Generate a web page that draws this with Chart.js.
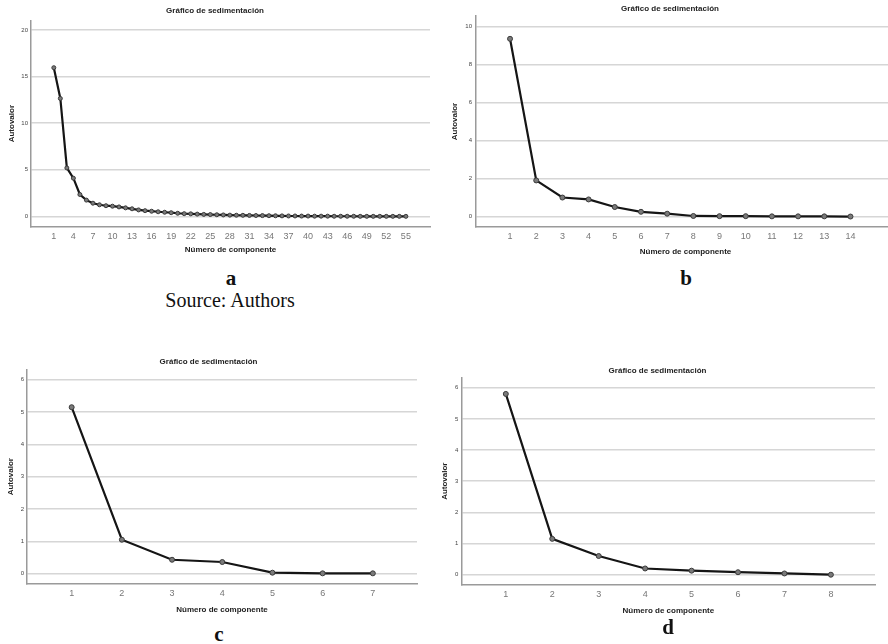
<!DOCTYPE html>
<html>
<head>
<meta charset="utf-8">
<script src="https://cdn.jsdelivr.net/npm/chart.js@4.4.1/dist/chart.umd.min.js"></script>
<style>
  html, body { margin: 0; padding: 0; background: #fff; overflow: hidden; }
  body { width: 888px; height: 644px; position: relative; }
  .panel { position: absolute; }
  .lbl { position: absolute; font-family: 'Liberation Serif', 'Times New Roman', serif; color: #111; transform: translate(-50%, -50%); white-space: nowrap; }
  .lbl.b { font-weight: bold; font-size: 21px; }
  .lbl.src { font-size: 20px; }
</style>
</head>
<body>
<div class="panel" style="left:0px;top:0px;width:440px;height:262px"><canvas id="chartA"></canvas></div>
<div class="panel" style="left:440px;top:0px;width:460px;height:262px"><canvas id="chartB"></canvas></div>
<div class="panel" style="left:0px;top:350px;width:440px;height:270px"><canvas id="chartC"></canvas></div>
<div class="panel" style="left:440px;top:350px;width:448px;height:270px"><canvas id="chartD"></canvas></div>

<div class="lbl b" style="left:231px;top:278px">a</div>
<div class="lbl b" style="left:686px;top:278px">b</div>
<div class="lbl src" style="left:230px;top:300px">Source: Authors</div>
<div class="lbl b" style="left:219px;top:634px">c</div>
<div class="lbl b" style="left:668px;top:627px">d</div>

<script>
// panel a: 55 components
const compA = [1,2,3,4,5,6,7,8,9,10,11,12,13,14,15,16,17,18,19,20,21,22,23,24,25,26,27,28,29,30,
               31,32,33,34,35,36,37,38,39,40,41,42,43,44,45,46,47,48,49,50,51,52,53,54,55];
const eigenA = [15.95, 12.65, 5.2, 4.1, 2.35, 1.75, 1.42, 1.25, 1.15, 1.1, 1.02, 0.92, 0.82, 0.7, 0.62,
                0.56, 0.5, 0.45, 0.4, 0.34, 0.3, 0.28, 0.25, 0.22, 0.2, 0.18, 0.16, 0.14, 0.13, 0.12,
                0.11, 0.1, 0.09, 0.08, 0.07, 0.06, 0.05, 0.05, 0.04, 0.04, 0.03, 0.03, 0.03, 0.02, 0.02,
                0.02, 0.02, 0.01, 0.01, 0.01, 0.01, 0.01, 0.01, 0.01, 0.01];
const xTicksA = [1,4,7,10,13,16,19,22,25,28,31,34,37,40,43,46,49,52,55];
const yTicksA = [0,5,10,15,20];

// panel b: 14 components
const compB = [1,2,3,4,5,6,7,8,9,10,11,12,13,14];
const eigenB = [9.35, 1.9, 1.0, 0.9, 0.5, 0.25, 0.15, 0.03, 0.02, 0.02, 0.01, 0.01, 0.01, 0.0];
const xTicksB = [1,2,3,4,5,6,7,8,9,10,11,12,13,14];
const yTicksB = [0,2,4,6,8,10];

// panel c: 7 components
const compC = [1,2,3,4,5,6,7];
const eigenC = [5.15, 1.05, 0.43, 0.36, 0.03, 0.01, 0.01];
const xTicksC = [1,2,3,4,5,6,7];
const yTicksC = [0,1,2,3,4,5,6];

// panel d: 8 components
const compD = [1,2,3,4,5,6,7,8];
const eigenD = [5.8, 1.15, 0.6, 0.2, 0.13, 0.08, 0.04, 0.0];
const xTicksD = [1,2,3,4,5,6,7,8];
const yTicksD = [0,1,2,3,4,5,6];

const FONT = "'Liberation Sans', Arial, sans-serif";

function renderScree(canvasId, comps, values, xTicks, yTicks, cfg) {
    const ctx = document.getElementById(canvasId).getContext('2d');
    return new Chart(ctx, {
        type: 'line',
        data: {
            datasets: [{
                data: comps.map((c, i) => ({ x: c, y: values[i] })),
                borderColor: '#151515',
                borderWidth: 2.2,
                pointBackgroundColor: '#7a7a7a',
                pointBorderColor: '#3a3a3a',
                pointBorderWidth: 1,
                pointRadius: cfg.pointRadius,
                tension: 0
            }]
        },
        options: {
            responsive: true,
            maintainAspectRatio: false,
            animation: false,
            layout: { padding: cfg.padding },
            plugins: {
                legend: { display: false },
                tooltip: { enabled: false },
                title: {
                    display: true,
                    text: 'Gráfico de sedimentación',
                    color: '#222',
                    font: { family: FONT, size: 8, weight: 'bold', lineHeight: 1.2 },
                    padding: cfg.titlePad
                }
            },
            scales: {
                x: {
                    type: 'linear',
                    min: cfg.xMin,
                    max: cfg.xMax,
                    afterBuildTicks: s => { s.ticks = xTicks.map(v => ({ value: v })); },
                    afterFit: s => { s.height = cfg.xHeight; },
                    grid: { display: false, drawTicks: false },
                    border: { display: true, color: '#9a9a9a', width: 1.5 },
                    ticks: { color: '#777', padding: cfg.xTickPad, maxRotation: 0, autoSkip: false,
                             font: { family: FONT, size: cfg.xTickSize } },
                    title: {
                        display: true,
                        text: 'Número de componente',
                        color: '#222',
                        font: { family: FONT, size: 8, weight: 'bold', lineHeight: 1.2 },
                        padding: { top: 0, bottom: cfg.xTitlePad }
                    }
                },
                y: {
                    min: cfg.yMin,
                    max: cfg.yMax,
                    afterBuildTicks: s => { s.ticks = yTicks.map(v => ({ value: v })); },
                    afterFit: s => { s.width = cfg.yWidth; },
                    grid: { color: '#d6d6d6', lineWidth: 1.5, drawTicks: false },
                    border: { display: true, color: '#9a9a9a', width: 1.5 },
                    ticks: { color: '#444', padding: cfg.yTickPad, font: { family: FONT, size: 6 } },
                    title: {
                        display: true,
                        text: 'Autovalor',
                        color: '#222',
                        font: { family: FONT, size: 8, weight: 'bold', lineHeight: 1.2 },
                        padding: { top: cfg.yTitlePad, bottom: 0 }
                    }
                }
            }
        }
    });
}

renderScree('chartA', compA, eigenA, xTicksA, yTicksA, {
    pointRadius: 2, padding: { left: 0, right: 10, top: 0, bottom: 0 },
    titlePad: { top: 6, bottom: 5 }, xMin: -2.5, xMax: 58.7, xHeight: 35.3, xTickPad: 4, xTickSize: 9,
    xTitlePad: 7, yMin: -1.1, yMax: 21, yWidth: 31, yTickPad: 3, yTitlePad: 7
});
renderScree('chartB', compB, eigenB, xTicksB, yTicksB, {
    pointRadius: 2.5, padding: { left: 0, right: 0, top: 0, bottom: 0 },
    titlePad: { top: 4, bottom: 2.4 }, xMin: -0.3, xMax: 15.7, xHeight: 35, xTickPad: 4, xTickSize: 9,
    xTitlePad: 5, yMin: -0.55, yMax: 10.55, yWidth: 36, yTickPad: 4, yTitlePad: 10
});
renderScree('chartC', compC, eigenC, xTicksC, yTicksC, {
    pointRadius: 2.5, padding: { left: 0, right: 23, top: 0, bottom: 0 },
    titlePad: { top: 7, bottom: 2.8 }, xMin: 0.11, xMax: 7.88, xHeight: 36, xTickPad: 4, xTickSize: 9,
    xTitlePad: 5, yMin: -0.32, yMax: 6.32, yWidth: 27, yTickPad: 3, yTitlePad: 6
});
renderScree('chartD', compD, eigenD, xTicksD, yTicksD, {
    pointRadius: 2.5, padding: { left: 0, right: 13, top: 0, bottom: 0 },
    titlePad: { top: 16, bottom: 1.8 }, xMin: 0.05, xMax: 8.95, xHeight: 35, xTickPad: 4, xTickSize: 9,
    xTitlePad: 4, yMin: -0.33, yMax: 6.33, yWidth: 21.7, yTickPad: 3.4, yTitlePad: 0
});
</script>
</body>
</html>
